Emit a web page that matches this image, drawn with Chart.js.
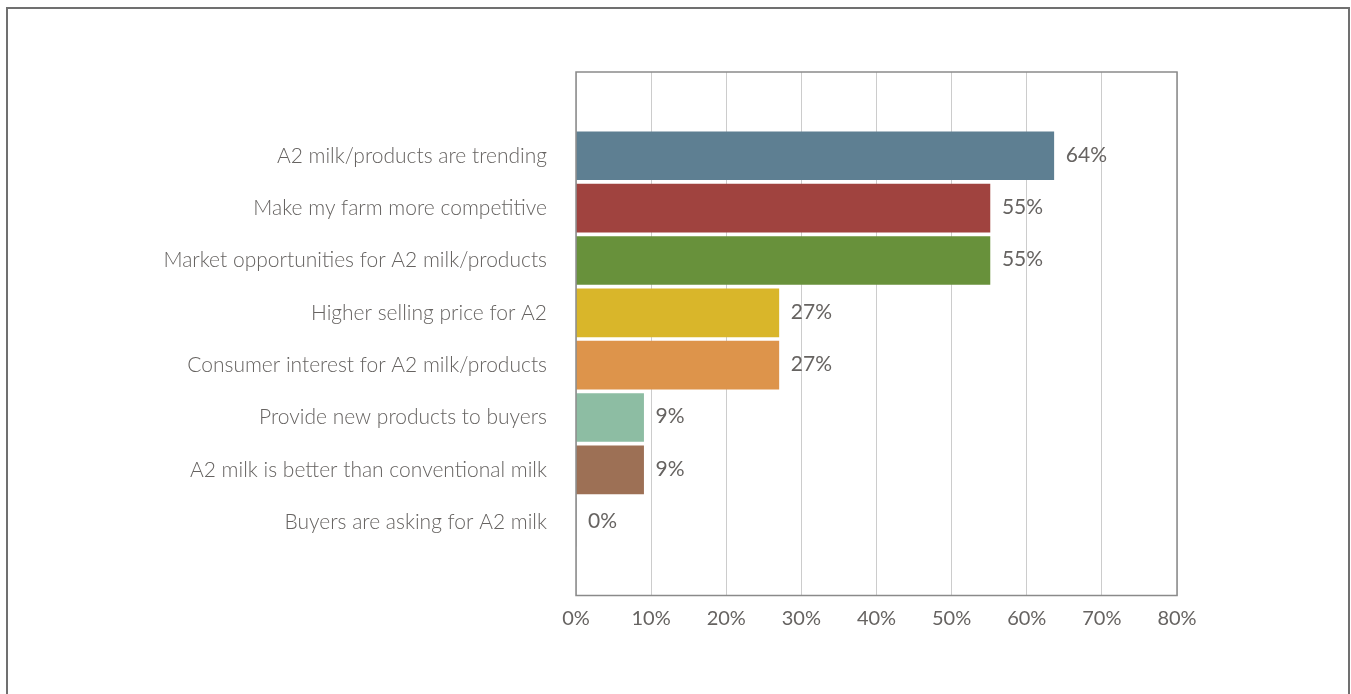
<!doctype html>
<html lang="en">
<head>
<meta charset="utf-8">
<title>A2 milk reasons</title>
<script src="https://cdn.jsdelivr.net/npm/chart.js"></script>
<style>
body { margin: 0; background: #fff; }
#wrap { position: relative; width: 1351px; height: 694px; }
#frame { position: absolute; left: 6px; top: 7px; width: 1340px; height: 700px; border: 2px solid #707070; border-bottom: none; }
#myChart { position: absolute; left: 0; top: 0; }
</style>
<script>
// data
let reasons = [
	'A2 milk/products are trending',
	'Make my farm more competitive',
	'Market opportunities for A2 milk/products',
	'Higher selling price for A2',
	'Consumer interest for A2 milk/products',
	'Provide new products to buyers',
	'A2 milk is better than conventional milk',
	'Buyers are asking for A2 milk'
];
let shares = [63.6, 55.1, 55.1, 27.0, 27.0, 9.0, 9.0, 0];
let barColors = ['#5e7f92', '#a0433f', '#68913b', '#d9b62a', '#dd944b', '#8dbda3', '#9d7055', '#999999'];
let xTicks = [0, 10, 20, 30, 40, 50, 60, 70, 80];

let textColor = '#666361';

// value labels at the end of each bar + box round the plot
const valueLabels = {
	id: 'valueLabels',
	afterDatasetsDraw(chart) {
		const ctx = chart.ctx;
		const meta = chart.getDatasetMeta(0);
		ctx.save();
		ctx.font = '21px Lato';
		ctx.fillStyle = textColor;
		ctx.textAlign = 'left';
		ctx.textBaseline = 'middle';
		meta.data.forEach(function(bar, i) {
			ctx.fillText(Math.round(shares[i]) + '%', bar.x + 12, bar.y - 1);
		});
		ctx.restore();
	},
	afterDraw(chart) {
		const a = chart.chartArea;
		const ctx = chart.ctx;
		ctx.save();
		ctx.strokeStyle = '#8a8a8a';
		ctx.lineWidth = 1.5;
		ctx.strokeRect(a.left, a.top, a.right - a.left, a.bottom - a.top);
		ctx.restore();
	}
};

window.onload = function() {
	const points = shares.map(function(v, i) { return {x: v, y: i}; });
	const data = {
		datasets: [{
			data: points,
			backgroundColor: barColors,
			borderWidth: 0,
			barThickness: 48
		}]
	};
	const config = {
		type: 'bar',
		data: data,
		options: {
			indexAxis: 'y',
			responsive: false,
			animation: false,
			layout: { padding: { left: 0, top: 72, right: 174, bottom: 0 } },
			plugins: { legend: { display: false }, tooltip: { enabled: false } },
			scales: {
				x: {
					type: 'linear',
					bounds: 'data',
					min: 0,
					max: 80,
					afterBuildTicks: function(s) { s.ticks = xTicks.map(function(v) { return {value: v}; }); },
					afterFit: function(s) { s.height = 694 - 595.5; },
					grid: { color: '#cccccc', lineWidth: 1, drawTicks: false },
					border: { display: false },
					ticks: {
						color: textColor,
						font: { family: 'Lato', size: 20 },
						padding: 11,
						maxRotation: 0,
						callback: function(v) { return v + '%'; }
					}
				},
				y: {
					type: 'linear',
					bounds: 'data',
					offset: false,
					reverse: true,
					min: -1.6,
					max: 8.4,
					afterBuildTicks: function(s) { s.ticks = reasons.map(function(r, i) { return {value: i}; }); },
					afterFit: function(s) { s.width = 576; },
					grid: { display: false, offset: false },
					border: { display: false },
					ticks: {
						color: textColor,
						font: { family: 'Lato', size: 21, weight: 300 },
						padding: 21,
						callback: function(v) { return reasons[v]; }
					}
				}
			}
		},
		plugins: [valueLabels]
	};
	new Chart(document.getElementById('myChart'), config);
}
</script>
</head>
<body>
<div id="wrap">
<div id="frame"></div>
<canvas id="myChart" width="1351" height="694"></canvas>
</div>
</body>
</html>
